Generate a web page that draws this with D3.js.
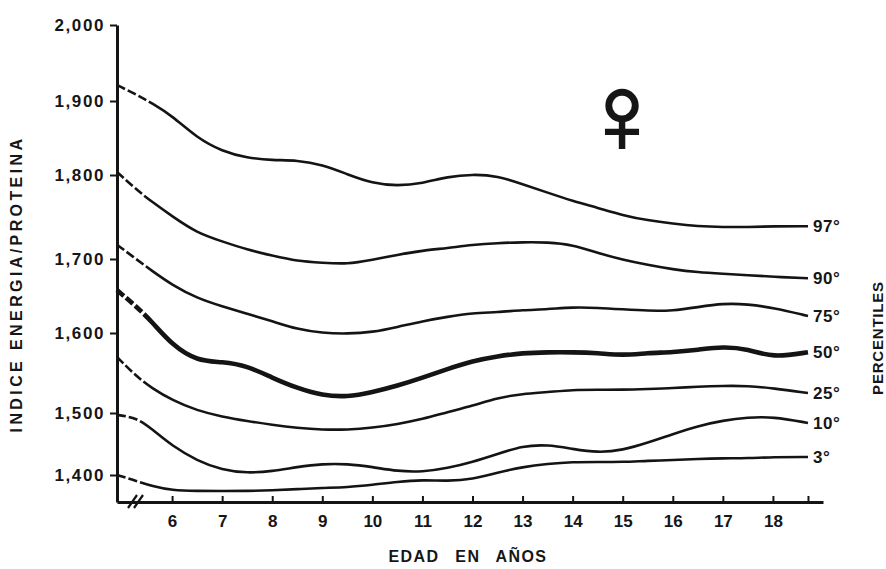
<!DOCTYPE html>
<html>
<head>
<meta charset="utf-8">
<script src="https://cdn.jsdelivr.net/npm/d3@7"></script>
<style>
  body { margin: 0; background: #fff; }
  svg { display: block; }
  text { font-family: "Liberation Sans", Arial, sans-serif; font-weight: bold; fill: #161616; }
</style>
</head>
<body>
<script>
// ages (years) where each percentile curve was read
var ages = [4.9, 5.3, 5.6, 6, 6.5, 7, 7.5, 8, 8.5, 9, 9.5, 10, 10.5, 11, 11.5,
    12, 12.5, 13, 13.5, 14, 14.5, 15, 15.5, 16, 16.5, 17, 17.5, 18, 18.7];

var percentiles = ["97°", "90°", "75°", "50°", "25°", "10°", "3°"];

var p97 = [1921, 1908, 1897, 1880, 1850, 1832, 1823, 1820, 1820, 1814, 1801, 1790, 1787, 1790, 1798,
    1801, 1799, 1789, 1779, 1769, 1761, 1752, 1746, 1742, 1739, 1738, 1738, 1739, 1739];
var p90 = [1804, 1782, 1768, 1751, 1731, 1721, 1711, 1704, 1697, 1695, 1693, 1699, 1705, 1710, 1713,
    1717, 1719, 1720, 1720, 1717, 1707, 1699, 1692, 1686, 1682, 1680, 1678, 1676, 1674];
var p75 = [1717, 1699, 1684, 1665, 1647, 1636, 1626, 1616, 1605, 1600, 1599, 1601, 1608, 1616, 1622,
    1627, 1628, 1631, 1632, 1635, 1634, 1632, 1630, 1630, 1635, 1640, 1639, 1634, 1623];
var p50 = [1658, 1635, 1615, 1585, 1565, 1564, 1559, 1544, 1531, 1522, 1520, 1526, 1534, 1544, 1555,
    1565, 1571, 1575, 1576, 1576, 1575, 1572, 1575, 1576, 1579, 1583, 1580, 1569, 1576];
var p25 = [1570, 1545, 1531, 1516, 1503, 1494, 1487, 1481, 1476, 1473, 1473, 1476, 1482, 1490, 1501,
    1509, 1519, 1524, 1526, 1529, 1529, 1529, 1530, 1531, 1533, 1534, 1534, 1531, 1525];
var p10 = [1497, 1492, 1474, 1447, 1423, 1408, 1403, 1406, 1413, 1418, 1418, 1413, 1406, 1405, 1411,
    1421, 1434, 1447, 1449, 1442, 1436, 1440, 1452, 1466, 1479, 1488, 1493, 1494, 1484];
var p3 = [1400, 1390, 1382, 1375, 1374, 1374, 1374, 1375, 1377, 1379, 1380, 1384, 1389, 1392, 1390,
    1393, 1404, 1413, 1418, 1421, 1421, 1421, 1423, 1424, 1426, 1427, 1427, 1429, 1429];

var seriesValues = [p97, p90, p75, p50, p25, p10, p3];

var yTicks = [1400, 1500, 1600, 1700, 1800, 1900, 2000];
var xTicks = [6, 7, 8, 9, 10, 11, 12, 13, 14, 15, 16, 17, 18];

var w = 886, h = 569;
var dashEnd = 5.55; // curves are dashed up to this age

var svg = d3.select("body").append("svg").attr("width", w).attr("height", h);

var x = d3.scaleLinear().domain([4.9, 19.0]).range([117, 823]);
// hand drawn axis: the gridsteps are not evenly spaced on the original
var y = d3.scaleLinear()
    .domain([1356, 1400, 1500, 1600, 1700, 1800, 1900, 2000])
    .range([502, 475, 413, 333, 259, 175, 101, 25]);

var line = d3.line()
    .x(function (d) { return x(d[0]); })
    .y(function (d) { return y(d[1]); })
    .curve(d3.curveBasis);

seriesValues.forEach(function (vals, i) {
    var pts = ages.map(function (a, j) { return [a, vals[j]]; });
    var path = svg.append("path")
        .datum(pts)
        .attr("d", line)
        .attr("fill", "none")
        .attr("stroke", "#141414")
        .attr("stroke-width", i === 3 ? 4.6 : 2.6)
        .attr("stroke-linejoin", "round");

    // dashed start, solid afterwards
    var node = path.node();
    var total = node.getTotalLength();
    var l0 = 0;
    while (l0 < total && node.getPointAtLength(l0).x < x(dashEnd)) l0 += 1;
    var dash = [];
    var sum = 0;
    while (sum + 12 < l0) { dash.push(9, 3); sum += 12; }
    dash.push(total + 10, 0);
    path.attr("stroke-dasharray", dash.join(" "));

    svg.append("text")
        .attr("x", x(18.7) + 5)
        .attr("y", y(vals[vals.length - 1]) + 6)
        .attr("font-size", 17)
        .attr("letter-spacing", 0.5)
        .text(percentiles[i]);
});

// y axis
var yAxis = svg.append("g")
    .attr("transform", "translate(117,0)")
    .call(d3.axisLeft(y).tickValues(yTicks).tickSizeInner(7).tickSizeOuter(0)
        .tickPadding(5).tickFormat(d3.format(",")));
yAxis.select(".domain").attr("stroke", "#141414").attr("stroke-width", 3);
yAxis.selectAll(".tick line").attr("stroke", "#141414").attr("stroke-width", 2);
yAxis.selectAll(".tick text")
    .attr("font-size", 17)
    .attr("letter-spacing", 1.6)
    .attr("font-family", "'Liberation Sans', Arial, sans-serif")
    .attr("fill", "#161616");

// x axis, ticks pointing up
var xAxis = svg.append("g")
    .attr("transform", "translate(0,502)")
    .call(d3.axisBottom(x).tickValues(xTicks.concat([18.7])).tickSizeInner(-6).tickSizeOuter(0)
        .tickPadding(13).tickFormat(function (d) { return d > 18 ? "" : d; }));
xAxis.select(".domain").attr("stroke", "#141414").attr("stroke-width", 3);
xAxis.selectAll(".tick line").attr("stroke", "#141414").attr("stroke-width", 2);
xAxis.selectAll(".tick text")
    .attr("font-size", 17)
    .attr("font-family", "'Liberation Sans', Arial, sans-serif")
    .attr("fill", "#161616");

// axis break marks near the origin
[[128, 140], [134, 146]].forEach(function (b) {
    svg.append("line")
        .attr("x1", b[0]).attr("y1", 508).attr("x2", b[1] - 3).attr("y2", 495)
        .attr("stroke", "#141414").attr("stroke-width", 2.2);
});

// titles
svg.append("text")
    .attr("transform", "translate(22,284) rotate(-90)")
    .attr("text-anchor", "middle")
    .attr("font-size", 16)
    .attr("letter-spacing", 3.4)
    .text("INDICE ENERGIA/PROTEINA");

svg.append("text")
    .attr("x", 468).attr("y", 562)
    .attr("text-anchor", "middle")
    .attr("font-size", 16)
    .attr("letter-spacing", 1.4)
    .attr("word-spacing", 10)
    .text("EDAD EN AÑOS");

svg.append("text")
    .attr("transform", "translate(883,338) rotate(-90)")
    .attr("text-anchor", "middle")
    .attr("font-size", 15)
    .attr("letter-spacing", 0.8)
    .text("PERCENTILES");

svg.append("text")
    .attr("x", 622).attr("y", 152)
    .attr("text-anchor", "middle")
    .attr("font-family", "'DejaVu Sans', sans-serif")
    .attr("font-size", 110)
    .attr("stroke", "#161616")
    .attr("stroke-width", 2.5)
    .text("♀");
</script>
</body>
</html>
